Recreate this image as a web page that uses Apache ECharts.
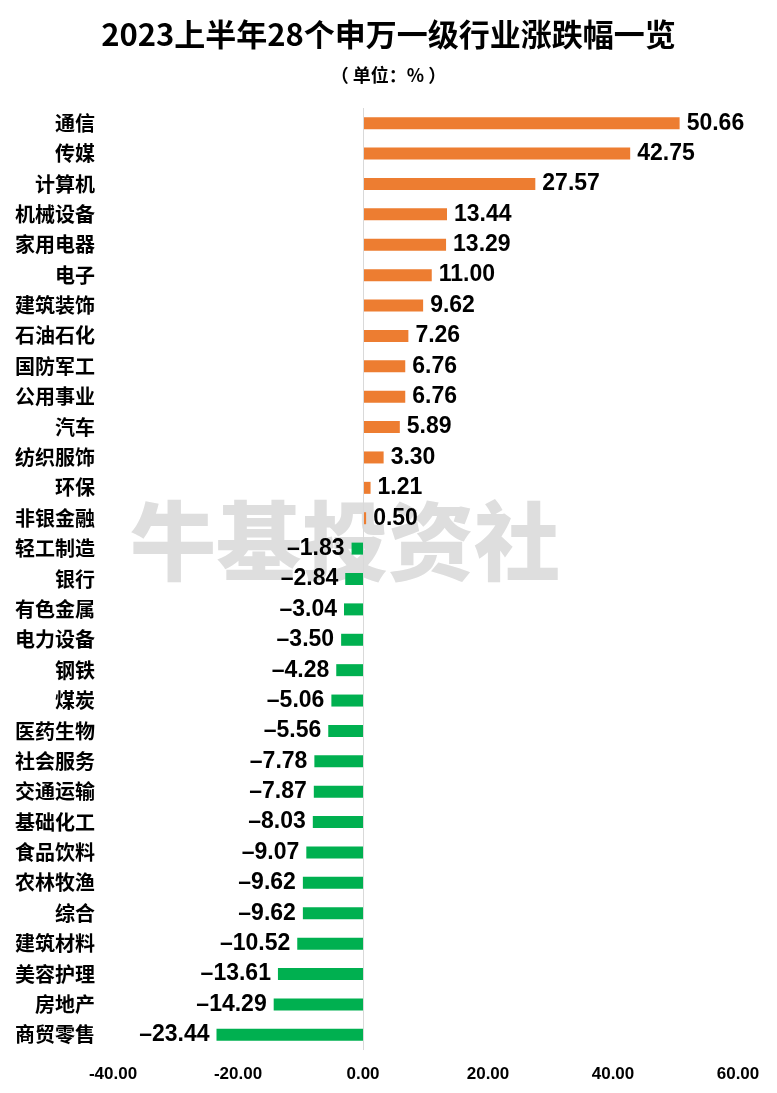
<!DOCTYPE html>
<html><head><meta charset="utf-8">
<script src="https://cdn.jsdelivr.net/npm/echarts@6/dist/echarts.min.js"></script>
<style>html,body{margin:0;padding:0;background:#fff}#c{width:777px;height:1093px}</style>
</head><body><div id="c"></div>
<script>
const categories = ['通信','传媒','计算机','机械设备','家用电器','电子','建筑装饰','石油石化','国防军工','公用事业','汽车','纺织服饰','环保','非银金融','轻工制造','银行','有色金属','电力设备','钢铁','煤炭','医药生物','社会服务','交通运输','基础化工','食品饮料','农林牧渔','综合','建筑材料','美容护理','房地产','商贸零售'];
const values = [50.66,42.75,27.57,13.44,13.29,11.00,9.62,7.26,6.76,6.76,5.89,3.30,1.21,0.50,-1.83,-2.84,-3.04,-3.50,-4.28,-5.06,-5.56,-7.78,-7.87,-8.03,-9.07,-9.62,-9.62,-10.52,-13.61,-14.29,-23.44];
const xTicks = [-40,-20,0,20,40,60];

const chart = echarts.init(document.getElementById('c'));
const cjk = '"Noto Sans CJK SC", sans-serif';
chart.setOption({
  animation:false,
  title:[{text:'2023上半年28个申万一级行业涨跌幅一览',left:'center',top:14,textStyle:{fontFamily:cjk,fontSize:31,fontWeight:'bold',color:'#000'}},
         {text:'（ 单位：% ）',left:'center',top:61,textStyle:{fontFamily:cjk,fontSize:18,fontWeight:'bold',color:'#000'}}],
  graphic:[{type:'text',left:130,top:498,z:-1,silent:true,style:{text:'牛基投资社',font:'900 86px "Noto Sans CJK SC"',fill:'#dedede'}}],
  grid:{left:113,right:39,top:108,bottom:43},
  xAxis:{type:'value',min:xTicks[0],max:xTicks[xTicks.length-1],interval:20,
    splitLine:{show:false},axisLine:{show:false},axisTick:{show:false},
    axisLabel:{margin:16,fontFamily:'"Liberation Sans",Arial,sans-serif',fontWeight:'bold',fontSize:17,color:'#000',formatter:v=>v.toFixed(2)}},
  yAxis:{type:'category',data:categories,inverse:true,
    axisLine:{show:false},axisTick:{show:false},
    axisLabel:{margin:18,fontFamily:cjk,fontWeight:'bold',fontSize:20,color:'#000'}},
  series:[{type:'bar',barWidth:12,
    data:values.map(v=>({value:v,itemStyle:{color:v>=0?'#ED7D31':'#00B050'},
      label:{position:v>=0?'right':'left'}})),
    label:{show:true,distance:7,fontFamily:'"Liberation Sans",Arial,sans-serif',fontWeight:'bold',fontSize:23,color:'#000',
      formatter:p=>p.value<0?'–'+Math.abs(p.value).toFixed(2):p.value.toFixed(2)},
    markLine:{silent:true,symbol:'none',label:{show:false},lineStyle:{color:'#d9d9d9',width:1,type:'solid'},data:[{xAxis:0}]}
  }]
});
</script></body></html>
